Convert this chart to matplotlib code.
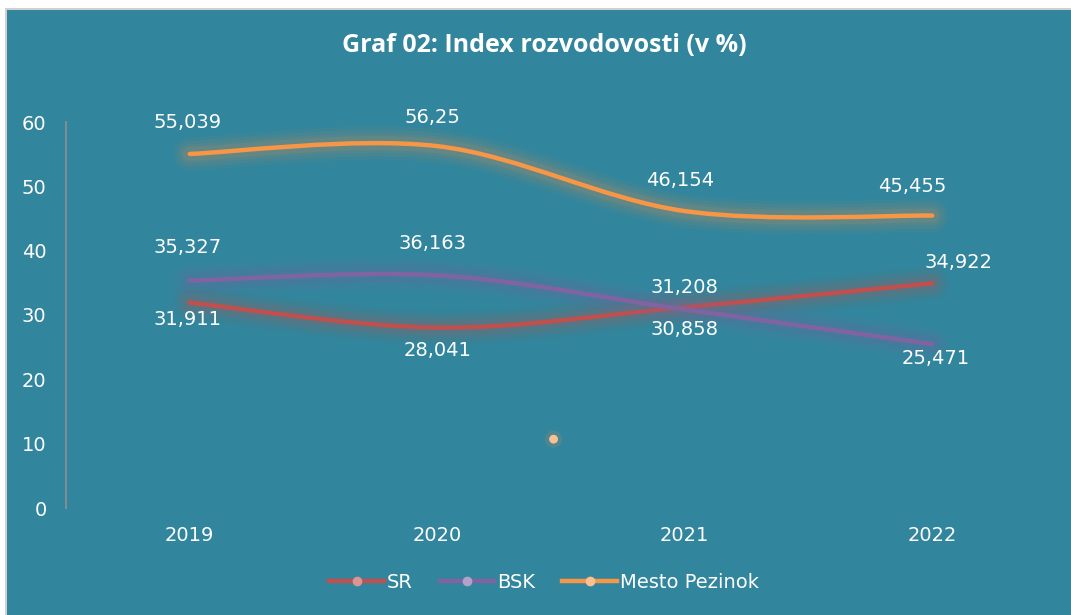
import numpy as np
import matplotlib
matplotlib.use("Agg")
import matplotlib.pyplot as plt
from matplotlib.path import Path
from matplotlib.patches import PathPatch, Rectangle
from matplotlib.lines import Line2D
import matplotlib.patheffects as pe

years = ["2019", "2020", "2021", "2022"]
sr = [31.911, 28.041, 31.208, 34.922]
bsk = [35.327, 36.163, 30.858, 25.471]
pezinok = [55.039, 56.25, 46.154, 45.455]
sr_labels = ["31,911", "28,041", "31,208", "34,922"]
bsk_labels = ["35,327", "36,163", "30,858", "25,471"]
pezinok_labels = ["55,039", "56,25", "46,154", "45,455"]
# stray marker left in the original chart
stray_x = [1.47]
stray_y = [10.7]

bg = "#31859C"
colors = {"SR": "#C0504D", "BSK": "#8064A2", "Mesto Pezinok": "#F79646"}
marker_colors = {"SR": "#D99694", "BSK": "#B3A2C7", "Mesto Pezinok": "#FAC090"}

# label offsets in pixels (dx, dy)
sr_off = [(-2, -17), (0, -23), (0, 20), (26, 21)]
bsk_off = [(-2, 33), (-5, 32), (0, -20), (3, -14)]
pez_off = [(-2, 31), (-5, 29), (-5, 31), (-20, 29)]

plt.rcParams['font.family'] = ['DejaVu Sans']

fig = plt.figure(figsize=(10.71, 6.15), dpi=100)
fig.patch.set_facecolor("white")
fig.patches.append(Rectangle((5 / 1071, -0.1), 1.2, 1 - 8 / 615 + 0.1, transform=fig.transFigure,
                             facecolor="#D0D0D0", edgecolor="none", zorder=-20))
fig.patches.append(Rectangle((7 / 1071, -0.1), 1.2, 1 - 10 / 615 + 0.1, transform=fig.transFigure,
                             facecolor=bg, edgecolor="none", zorder=-10))

ax = fig.add_axes([66 / 1071, 1 - 508 / 615, 990 / 1071, 386 / 615])
ax.set_facecolor("none")
ax.set_xlim(-0.5, 3.5)
ax.set_ylim(0, 60)
for s in ["top", "right", "bottom"]:
    ax.spines[s].set_visible(False)
ax.spines["left"].set_color("#7F8C90")
ax.spines["left"].set_linewidth(1.5)
ax.set_yticks(range(0, 61, 10))
ax.set_xticks(range(len(years)))
ax.set_xticklabels(years)
ax.tick_params(axis="y", length=0, colors="white", labelsize=14, pad=14)
ax.tick_params(axis="x", length=0, colors="white", labelsize=14, pad=13)


def smooth_path(xs, ys):
    # Excel-like smoothed line: cubic Bezier through the data points
    pts = np.column_stack([xs, ys]).astype(float)
    ext = np.vstack([pts[0], pts, pts[-1]])
    verts = [pts[0]]
    codes = [Path.MOVETO]
    for i in range(1, len(pts)):
        p0, p1, p2, p3 = ext[i - 1], ext[i], ext[i + 1], ext[i + 2]
        c1 = p1 + (p2 - p0) / 6
        c2 = p2 - (p3 - p1) / 6
        verts += [c1, c2, p2]
        codes += [Path.CURVE4] * 3
    return Path(verts, codes)


def glow(color):
    return [pe.Stroke(linewidth=w, foreground=color, alpha=a)
            for w, a in [(24, 0.05), (19, 0.06), (14, 0.08), (10, 0.1)]] + [pe.Normal()]


x = np.arange(len(years))
series = [("SR", sr, sr_labels, sr_off),
          ("BSK", bsk, bsk_labels, bsk_off),
          ("Mesto Pezinok", pezinok, pezinok_labels, pez_off)]

for name, vals, labs, offs in series:
    patch = PathPatch(smooth_path(x, vals), facecolor="none", edgecolor=colors[name],
                      linewidth=3.2, capstyle="round", zorder=3)
    patch.set_path_effects(glow(colors[name]))
    ax.add_patch(patch)
    for xi, v, lab, (dx, dy) in zip(x, vals, labs, offs):
        ax.annotate(lab, (xi, v), xytext=(dx, dy), textcoords="offset pixels",
                    ha="center", va="center", color="white", fontsize=14, zorder=5)

ax.scatter(stray_x, stray_y, s=40, color=marker_colors["Mesto Pezinok"], zorder=4,
           edgecolors="none",
           path_effects=[pe.Stroke(linewidth=6, foreground=colors["Mesto Pezinok"], alpha=0.15), pe.Normal()])

fig.text(544 / 1071, 1 - 45 / 615, "Graf 02: Index rozvodovosti (v %)", ha="center", va="center",
         color="white", fontsize=18, fontweight="bold", family=["Open Sans", "DejaVu Sans"])

handles = [Line2D([0], [0], color=colors[n], lw=3.2, marker="o", markersize=6,
                  markerfacecolor=marker_colors[n], markeredgecolor=marker_colors[n])
           for n, _, _, _ in series]
leg = fig.legend(handles, [n for n, _, _, _ in series], loc="center", bbox_to_anchor=(544 / 1071, 1 - 582 / 615),
                 ncol=3, frameon=False, handlelength=2.8, handletextpad=0.15, columnspacing=1.4,
                 prop={"size": 14})
for t in leg.get_texts():
    t.set_color("white")

fig.savefig("out.png", dpi=100, facecolor=fig.get_facecolor())
